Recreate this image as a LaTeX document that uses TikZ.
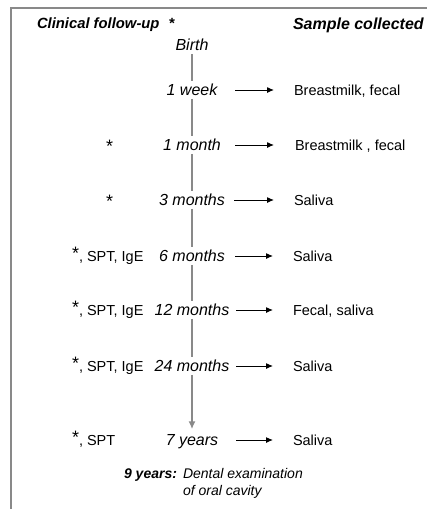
\documentclass[tikz,border=0pt]{standalone}
\usepackage{fontspec}
\setmainfont{Liberation Sans}
\usetikzlibrary{arrows.meta,positioning}
\definecolor{lineGray}{RGB}{137,137,137}
\newcommand{\bigstar}{{\fontsize{18}{18}\selectfont *}}

\begin{document}
\begin{tikzpicture}[
  x=1pt, y=-1pt,
  every node/.style = {inner sep=0pt, outer sep=0pt},
  TimeLabel/.style = {font=\fontsize{16}{19}\selectfont\itshape, text height=11.5pt, text depth=0pt, inner sep=3pt},
  SampleLabel/.style = {anchor=west, font=\fontsize{14.5}{17}\selectfont, text height=10.5pt, text depth=0pt},
  TestLabel/.style = {anchor=west, font=\fontsize{14.5}{17}\selectfont, text height=10.5pt, text depth=0pt},
  TitleLabel/.style = {anchor=west, font=\bfseries\itshape}
  ]
  \tikzset{TimeLine/.style = {lineGray, line width=2pt, -{Latex[length=8pt,width=7pt]}, shorten >=2pt}}
  \tikzset{SampleArrow/.style = {black, line width=1pt, -{Latex[length=7pt,width=6pt]}, shorten >=20pt}}

  \useasboundingbox (0,0) rectangle (427,509);
  \draw[lineGray, line width=2pt] (11,509) -- (11,8) -- (427,8);

  \node[TitleLabel, font=\fontsize{14.8}{17}\selectfont\bfseries\itshape] (clinical) at (37,25) {Clinical follow-up\hspace{9pt}*};
  \node[TitleLabel, font=\fontsize{16}{19}\selectfont\bfseries\itshape] (collected) at (293,25) {Sample collected};

  \node[TimeLabel] (birth) at (192,45) {Birth};
  \node[TimeLabel] (week1) at (192,90) {1 week};
  \node[TimeLabel] (month1) at (192,145) {1 month};
  \node[TimeLabel] (month3) at (192,200) {3 months};
  \node[TimeLabel] (month6) at (192,256) {6 months};
  \node[TimeLabel] (month12) at (192,310) {12 months};
  \node[TimeLabel] (month24) at (192,366) {24 months};
  \node[TimeLabel] (year7) at (192,440) {7 years};

  \draw[TimeLine] (birth) -- (week1) -- (month1) -- (month3) -- (month6)
    -- (month12) -- (month24) -- (year7);

  \node[TestLabel] (test1) at (106,147) {\bigstar};
  \node[TestLabel] (test3) at (106,202) {\bigstar};
  \node[TestLabel] (test6) at (72,256) {\raisebox{2pt}{\bigstar}, SPT, IgE};
  \node[TestLabel] (test12) at (72,310) {\raisebox{2pt}{\bigstar}, SPT, IgE};
  \node[TestLabel] (test24) at (72,366) {\raisebox{2pt}{\bigstar}, SPT, IgE};
  \node[TestLabel] (test7) at (72,440) {\raisebox{2pt}{\bigstar}, SPT};

  \node[SampleLabel] (sample1) at (294,90) {Breastmilk, fecal};
  \node[SampleLabel] (sample2) at (295,145) {Breastmilk , fecal};
  \node[SampleLabel] (sample3) at (294,200) {Saliva};
  \node[SampleLabel] (sample4) at (293,256) {Saliva};
  \node[SampleLabel] (sample5) at (293,310) {Fecal, saliva};
  \node[SampleLabel] (sample6) at (293,366) {Saliva};
  \node[SampleLabel] (sample7) at (293,440) {Saliva};

  \coordinate (from1) at (235,90);
  \coordinate (from2) at (235,145);
  \coordinate (from3) at (234,200);
  \coordinate (from4) at (235,256);
  \coordinate (from5) at (236,310);
  \coordinate (from6) at (236,366);
  \coordinate (from7) at (236,440);

  \draw[SampleArrow] (from1) -- (sample1);
  \draw[SampleArrow, shorten >=21pt] (from2) -- (sample2);
  \draw[SampleArrow] (from3) -- (sample3);
  \draw[SampleArrow] (from4) -- (sample4);
  \draw[SampleArrow] (from5) -- (sample5);
  \draw[SampleArrow] (from6) -- (sample6);
  \draw[SampleArrow] (from7) -- (sample7);

  \node[anchor=east, font=\fontsize{14}{17}\selectfont\bfseries\itshape, text height=10pt, text depth=0pt] (nine) at (177,473) {9 years:};
  \node[anchor=north west, align=left, font=\fontsize{14}{17}\selectfont\itshape] (dental) at (183,468) {Dental examination\\of oral cavity};
\end{tikzpicture}
\end{document}
